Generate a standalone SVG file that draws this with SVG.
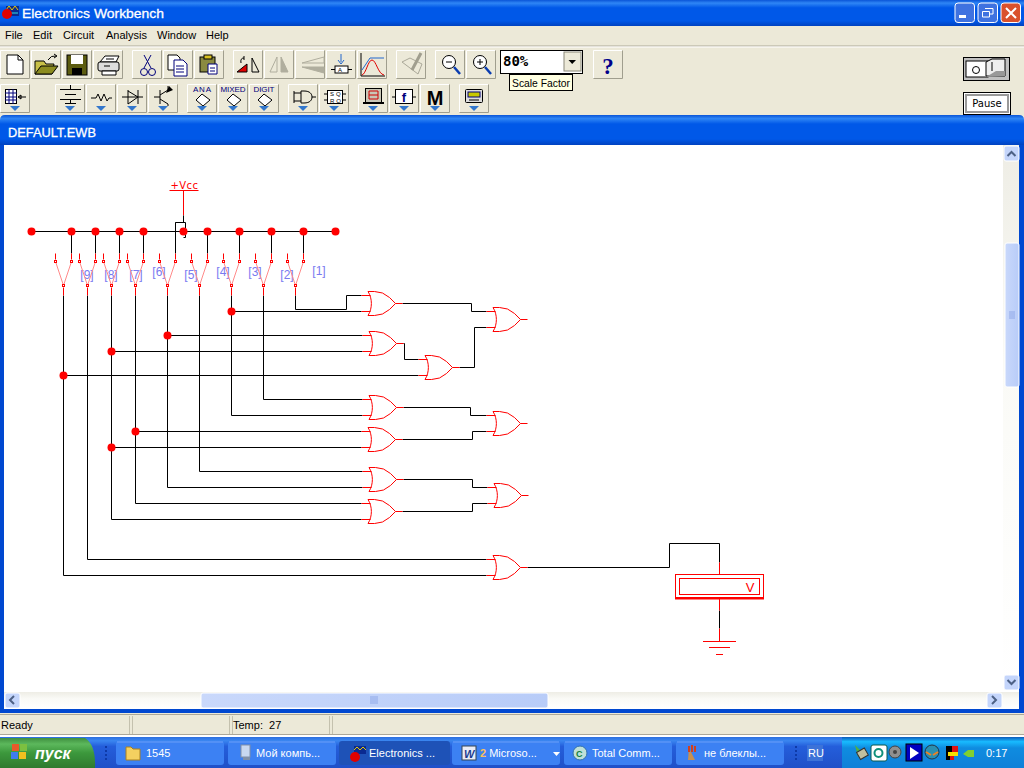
<svg xmlns="http://www.w3.org/2000/svg" xmlns:xlink="http://www.w3.org/1999/xlink" width="1024" height="768" viewBox="0 0 1024 768">
<style>
text{font-family:"Liberation Sans",Arial,sans-serif}
.w{fill:none;stroke:#000;stroke-width:1}
.r{fill:none;stroke:#f00;stroke-width:1}
.dot{fill:#f00}
.lab{font-size:12px;fill:#7a7af0}
.menu{font-size:11px;fill:#000}
.tb{font-size:11px;fill:#fff}
.ic{fill:none;stroke:#000;stroke-width:1}
.ib{fill:none;stroke:#00007b;stroke-width:1}
.st{font-size:11px;fill:#000}
.tiny{font-size:8px;fill:#00007b}
</style>
<defs>
<linearGradient id="tg" x1="0" y1="0" x2="0" y2="1"><stop offset="0" stop-color="#0a55d8"/><stop offset=".12" stop-color="#2f86f5"/><stop offset=".3" stop-color="#0058e8"/><stop offset=".8" stop-color="#0058e8"/><stop offset="1" stop-color="#0042c0"/></linearGradient>
<linearGradient id="bar" x1="0" y1="0" x2="0" y2="1"><stop offset="0" stop-color="#2c6fe0"/><stop offset=".12" stop-color="#3a86f0"/><stop offset=".3" stop-color="#245edb"/><stop offset="1" stop-color="#1f50c8"/></linearGradient>
<linearGradient id="tray" x1="0" y1="0" x2="0" y2="1"><stop offset="0" stop-color="#0c59b9"/><stop offset=".15" stop-color="#18bbff"/><stop offset=".35" stop-color="#0f8ce0"/><stop offset="1" stop-color="#0f80d8"/></linearGradient>
<linearGradient id="start" x1="0" y1="0" x2="0" y2="1"><stop offset="0" stop-color="#3f8f3f"/><stop offset=".2" stop-color="#5cb85c"/><stop offset=".5" stop-color="#3c983c"/><stop offset="1" stop-color="#2f7a2f"/></linearGradient>
<linearGradient id="thv" x1="0" y1="0" x2="1" y2="0"><stop offset="0" stop-color="#c9d8fb"/><stop offset="1" stop-color="#b8ccf8"/></linearGradient>
<linearGradient id="trk" x1="0" y1="0" x2="0" y2="1"><stop offset="0" stop-color="#eeede5"/><stop offset=".4" stop-color="#fafaf6"/><stop offset="1" stop-color="#fff"/></linearGradient>
<g id="btn"><rect width="30" height="29" fill="#ece9d8"/><path d="M.5 28V.5H29" fill="none" stroke="#fff"/><path d="M.5 28.500H29.500V.5" fill="none" stroke="#a09e8e"/></g>
<path id="drop" d="M-5 0H5L0 5Z" fill="#3377cc"/>
<g id="or"><path class="r" d="M0-8H9M0 8H9M34 0H41"/><path class="r" d="M6.500-12H13L21-10.500L28-6L34 0L28 6L21 10.500L13 12H6.500M6.500-12C11-5 11 5 6.500 12"/></g>
<g id="sw"><path d="M-8 24L-16 0M-8 24L0 0" stroke="#ff8a8a" fill="none"/><path class="r" d="M-16-8V-2M0-8V-2M-8 26V34"/><rect x="-17" y="-1" width="2" height="2" fill="#fff" stroke="#f00"/><rect x="-1" y="-1" width="2" height="2" fill="#fff" stroke="#f00"/><rect x="-9" y="23" width="2" height="2" fill="#fff" stroke="#f00"/></g>
<g id="tbtn"><rect width="108" height="24" rx="3" fill="#3c81f3"/><path d="M1 1H107" stroke="#6aa0f8"/></g>
<g id="sb"><rect width="15" height="15" rx="2" fill="#c4d5fb" stroke="#fff"/></g>
</defs>

<g id="window-chrome">
<rect width="1024" height="768" fill="#ece9d8"/>
<rect width="1024" height="26" fill="url(#tg)"/>
<g id="app-icon"><rect x="6" y="6" width="13" height="10" fill="#0a2a90"/><path d="M6 10L9 6L12 10L15 6L18 10" stroke="#e8c800" fill="none"/><path d="M10 13H18" stroke="#30e0e0"/><circle cx="7" cy="14" r="5" fill="#e00000"/></g>
<text x="22" y="18" font-size="13.500" fill="#fff" stroke="#fff" stroke-width=".3" textLength="142" lengthAdjust="spacingAndGlyphs">Electronics Workbench</text>
<g id="caption-buttons">
<rect x="955" y="3" width="19.500" height="19.500" rx="3" fill="#3f72e0" stroke="#fff"/><rect x="959" y="15" width="7" height="3" fill="#fff"/>
<rect x="978" y="3" width="19.500" height="19.500" rx="3" fill="#3f72e0" stroke="#fff"/><path d="M985 8.500H993V14H990M982.500 11.500H989.500V17H982.500Z" fill="none" stroke="#fff"/>
<rect x="1001" y="3" width="19.500" height="19.500" rx="3" fill="#d9512c" stroke="#fff"/><path d="M1006 8L1016 18M1016 8L1006 18" stroke="#fff" stroke-width="2"/>
</g>
<text class="menu" x="5" y="39">File</text><text class="menu" x="33" y="39">Edit</text><text class="menu" x="63" y="39">Circuit</text><text class="menu" x="106" y="39">Analysis</text><text class="menu" x="157" y="39">Window</text><text class="menu" x="206" y="39">Help</text>
<path d="M0 46H1024" stroke="#aca899"/><path d="M0 47H1024" stroke="#fff"/>
</g>

<g id="toolbar-1">
<use href="#btn" x="0" y="50"/><use href="#btn" x="31" y="50"/><use href="#btn" x="62" y="50"/><use href="#btn" x="93" y="50"/>
<use href="#btn" x="132" y="50"/><use href="#btn" x="163" y="50"/><use href="#btn" x="194" y="50"/>
<use href="#btn" x="233" y="50"/><use href="#btn" x="264" y="50"/><use href="#btn" x="295" y="50"/><use href="#btn" x="326" y="50"/><use href="#btn" x="357" y="50"/>
<use href="#btn" x="396" y="50"/><use href="#btn" x="435" y="50"/><use href="#btn" x="466" y="50"/>
<use href="#btn" x="593" y="50"/>
<path d="M7 55H18L23 60V74H7Z" fill="#fff" stroke="#000"/><path d="M18 55V60H23" class="ic"/>
<path d="M35 61H44L46 64H54L52 74H35Z" fill="#c8c048" stroke="#000"/><path d="M35 74L41 66H58L52 74Z" fill="#8c8c20" stroke="#000"/><path d="M48 60Q51 55 56 56M54 54L57 56L54 58" class="ic"/>
<rect x="67" y="55" width="20" height="20" fill="#5c5c10" stroke="#000"/><rect x="71" y="55" width="12" height="9" fill="#fff"/><rect x="72" y="68" width="10" height="7" fill="#000"/>
<path d="M100 62L105 56H119L116 62Z" fill="#fff" stroke="#000"/><rect x="98" y="62" width="21" height="9" rx="2" fill="#ddd" stroke="#000"/><path d="M102 71H116V75H102Z" fill="#fff" stroke="#000"/><path d="M106 59H114M104 66H110" class="ic"/>
<path d="M144 55L151 68M151 55L144 68" class="ib"/><circle cx="144" cy="72" r="3.500" class="ib"/><circle cx="152" cy="72" r="3.500" class="ib"/>
<path d="M168 55H177L180 58V70H168Z" fill="#fff" stroke="#000"/><path d="M174 60H183L187 64V76H174Z" fill="#fff" stroke="#00007b"/><path d="M176 66H184M176 69H184M176 72H184" class="ib"/>
<rect x="200" y="57" width="15" height="15" fill="#8a8a40" stroke="#000"/><rect x="204" y="55" width="8" height="4" fill="#d8c020" stroke="#000"/><path d="M208 64H217V74H208Z" fill="#fff" stroke="#00007b"/><path d="M210 68H215M210 71H215" class="ib"/>
<path d="M237 72L247 64V72Z" fill="#e00000" stroke="#000"/><path d="M244 58Q240 58 241 63M244 56V60M252 58L259 72H252Z" fill="none" stroke="#000"/>
<path d="M277 57V72H270Z" fill="#ece9d8" stroke="#b0ae9e"/><path d="M281 57V72H288Z" fill="#b0ae9e" stroke="#b0ae9e"/>
<path d="M302 63L324 57V63Z" fill="#ece9d8" stroke="#b0ae9e"/><path d="M302 67L324 73V67Z" fill="#b0ae9e" stroke="#b0ae9e"/>
<path d="M341 54V62M338 60L341 64L344 60" fill="none" stroke="#2266cc"/><rect x="335" y="66" width="13" height="7" fill="#fff" stroke="#000"/><path d="M331 69.500H335M348 69.500H352" class="ic"/><text x="338" y="72" font-size="6">A</text>
<path d="M361 53V76H385" class="ic"/><path d="M362 75C366 74 368 60 372 60S378 74 384 75" fill="none" stroke="#e00000"/><path d="M362 70L370 58H384" fill="none" stroke="#2266cc"/>
<path d="M402 62L418 74L422 64L410 58Z" fill="#ece9d8" stroke="#aaa898"/><path d="M412 70L421 53" stroke="#a09e8e" stroke-width="3"/>
<circle cx="449" cy="62" r="6.500" fill="#fff" stroke="#000"/><path d="M446 62H452" class="ic"/><path d="M454 67L460 74" stroke="#0a3cb0" stroke-width="2.500"/>
<circle cx="480" cy="62" r="6.500" fill="#fff" stroke="#000"/><path d="M477 62H483M480 59V65" class="ic"/><path d="M485 67L491 74" stroke="#0a3cb0" stroke-width="2.500"/>
<text x="608" y="74" font-size="23" font-weight="bold" text-anchor="middle" fill="#00008b" style="font-family:'Liberation Serif',serif">?</text>
<g id="zoom-combo"><rect x="500.500" y="50.500" width="82" height="23" fill="#fff" stroke="#000"/><rect x="564" y="52" width="17" height="19" fill="#ece9d8" stroke="#8a8878"/><path d="M568.500 60H576L572.200 64Z" fill="#000"/><text x="503" y="66" font-size="14" font-weight="bold" style="font-family:'DejaVu Sans Mono',monospace">80%</text></g>
<g id="tooltip"><rect x="509.500" y="74.500" width="63" height="16" fill="#ffffe1" stroke="#000"/><text x="512" y="87" font-size="11" textLength="58" lengthAdjust="spacingAndGlyphs">Scale Factor</text></g>
</g>

<g id="toolbar-2">
<use href="#btn" x="0" y="84"/>
<use href="#btn" x="55" y="84"/><use href="#btn" x="86" y="84"/><use href="#btn" x="117" y="84"/><use href="#btn" x="148" y="84"/>
<use href="#btn" x="187" y="84"/><use href="#btn" x="218" y="84"/><use href="#btn" x="249" y="84"/>
<use href="#btn" x="288" y="84"/><use href="#btn" x="319" y="84"/>
<use href="#btn" x="358" y="84"/><use href="#btn" x="389" y="84"/><use href="#btn" x="420" y="84"/>
<use href="#btn" x="459" y="84"/>
<rect x="5.500" y="89.500" width="11" height="14" fill="#fff" stroke="#000"/><path d="M5 93H17M5 97H17M5 100H17M9 89V104M13 89V104" class="ib"/><path d="M18 97H26M18 97L21 95V99Z" class="ic"/>
<path d="M60 89.500H81M65 94.500H76M60 99.500H81M65 103.500H76M70.500 85V89M70.500 100V103" class="ic"/>
<path d="M91 98H96L98 94L101 101L104 94L107 101L109 98H112" class="ic"/>
<path d="M122 97H143M128 90V104M138 90V104M128 91L138 97L128 104" class="ic"/>
<path d="M160 90V104M160 95L168 90M160 99L168 104M160 97H154M168 90V86M168 104V106" class="ic"/>
<path d="M173 90L166 93L169 86Z" fill="#000"/>
<text class="tiny" x="202" y="92" text-anchor="middle" textLength="18">ANA</text><text class="tiny" x="233" y="92" text-anchor="middle" textLength="25">MIXED</text><text class="tiny" x="264" y="92" text-anchor="middle" textLength="21">DIGIT</text>
<path d="M202 94L210 100L203 106L196 100ZM233 94L241 100L234 106L227 100ZM264 94L272 100L265 106L258 100Z" fill="#fff" stroke="#000"/>
<path d="M294 91V103M301 91V103H304C310 103 312 100 312 97S310 91 304 91ZM294 93H301M294 101H301M312 97H316" fill="#ece9d8" stroke="#000"/>
<rect x="327.500" y="90.500" width="15" height="13" fill="#fff" stroke="#000"/><text x="330" y="96" font-size="6" letter-spacing="2">SQ</text><text x="330" y="103" font-size="6" letter-spacing="2">RQ</text><path d="M324 94H327M324 100H327M343 94H346M343 100H346" class="ic"/>
<rect x="365.500" y="88.500" width="16" height="14" fill="#c8c6b6" stroke="#000"/><path d="M369 91H378V99H369ZM369 95H378" fill="none" stroke="#d00000"/><path d="M363 103H384" stroke="#000" stroke-width="2"/>
<rect x="395.500" y="89.500" width="17" height="14" fill="#fff" stroke="#000"/><path d="M392 97H395M413 97H416" class="ic"/><text x="404" y="102" font-size="13" font-weight="bold" fill="#00007b" text-anchor="middle">f</text>
<text x="435" y="105" font-size="20" font-weight="bold" text-anchor="middle">M</text>
<rect x="465.500" y="89.500" width="17" height="13" rx="1" fill="#ddd" stroke="#000"/><rect x="468" y="92" width="12" height="5" fill="#c8c800" stroke="#00007b"/><path d="M469 100H479" stroke="#000"/>
<use href="#drop" x="15" y="106"/><use href="#drop" x="70" y="106"/><use href="#drop" x="101" y="106"/><use href="#drop" x="132" y="106"/><use href="#drop" x="163" y="106"/><use href="#drop" x="202" y="106"/><use href="#drop" x="233" y="106"/><use href="#drop" x="264" y="106"/><use href="#drop" x="303" y="106"/><use href="#drop" x="334" y="106"/><use href="#drop" x="373" y="106"/><use href="#drop" x="404" y="106"/><use href="#drop" x="435" y="106"/><use href="#drop" x="474" y="106"/>
</g>

<g id="sim-controls">
<rect x="963.500" y="57.500" width="46" height="23" fill="#c0c0c0" stroke="#000"/><rect x="966" y="61" width="22" height="16" fill="#fff" stroke="#000"/><circle cx="976" cy="70" r="3.500" fill="none" stroke="#000"/><path d="M986 62L992 59H1005V76H986Z" fill="#eee" stroke="#000"/><path d="M992 62V71" stroke="#000"/><path d="M986 77L996 71H1005V76Z" fill="#999"/>
<rect x="963.500" y="92.500" width="47" height="22" fill="#fff" stroke="#000"/><rect x="966" y="95" width="42" height="17" fill="#fff" stroke="#999" stroke-width="2"/><text x="987" y="107" font-size="10" text-anchor="middle" style="font-family:'DejaVu Sans',sans-serif">Pause</text>
</g>

<g id="child-window">
<path d="M0 145V120Q0 115 5 115H1019Q1024 115 1024 120V145Z" fill="url(#tg)"/>
<text x="8" y="137" font-size="12.500" fill="#fff" stroke="#fff" stroke-width=".3" textLength="88" lengthAdjust="spacingAndGlyphs">DEFAULT.EWB</text>
<rect x="0" y="145" width="1024" height="568" fill="#0048d0"/>
<rect x="4" y="145" width="1015" height="564" fill="#fff"/>
<rect x="1003" y="145" width="16" height="546" fill="url(#trk)"/>
<rect x="4" y="692" width="1015" height="17" fill="url(#trk)"/>
<use href="#sb" x="1004" y="146"/><path d="M1007.500 156L1011.500 152L1015.500 156" fill="none" stroke="#4d6185" stroke-width="2"/>
<rect x="1005" y="243" width="14" height="144" rx="2" fill="url(#thv)" stroke="#fff"/><path d="M1009 312H1015M1009 314H1015M1009 316H1015M1009 318H1015" stroke="#8fa8e8"/>
<use href="#sb" x="1004" y="675"/><path d="M1007.500 680L1011.500 684L1015.500 680" fill="none" stroke="#4d6185" stroke-width="2"/>
<use href="#sb" x="5" y="693"/><path d="M14 696L10 700L14 704" fill="none" stroke="#4d6185" stroke-width="2"/>
<rect x="201" y="693" width="347" height="15" rx="2" fill="url(#thv)" stroke="#fff"/><path d="M371 696V704M373 696V704M375 696V704M377 696V704" stroke="#8fa8e8"/>
<use href="#sb" x="987" y="693"/><path d="M992 696L996 700L992 704" fill="none" stroke="#4d6185" stroke-width="2"/>
</g>

<g id="connectors" transform="translate(.5 .5)">
<path class="w" d="M31 231H335"/>
<path class="r" d="M183 190V215"/>
<path class="w" d="M183 215V222H175V253M175 222H185V237H183"/>
<path class="w" d="M71 231V253M95 231V253M119 231V253M143 231V253M207 231V253M239 231V253M271 231V253M303 231V253"/>
<path class="w" d="M63 295V575H486M87 295V559H486M111 295V519H361M135 295V503H361M167 295V487H362M199 295V471H362M231 295V415H362M263 295V399H362"/>
<path class="w" d="M295 295V309H346V295H361M231 311H361M167 335H362M111 351H362M63 375H418M135 431H361M111 447H361"/>
<path class="w" d="M402 303H471V311H486M403 343H404V359H418M459 367H474V327H486"/>
<path class="w" d="M403 407H470V415H486M402 439H472V431H486M403 479H472V487H487M402 511H472V503H487"/>
<path class="w" d="M527 567H669V543H719V562M719 610V628"/>
<path class="r" d="M719 562V574M719 598V610M719 628V641"/>
</g>

<g id="vcc" transform="translate(.5 .5)"><path class="r" d="M169 190H198"/><text x="170" y="188" font-size="11" fill="#f00" letter-spacing=".5" style="font-family:'DejaVu Sans',sans-serif" textLength="28" lengthAdjust="spacingAndGlyphs">+Vcc</text></g>

<g id="junctions">
<circle class="dot" cx="31.500" cy="231.500" r="4"/><circle class="dot" cx="71.500" cy="231.500" r="4"/><circle class="dot" cx="95.500" cy="231.500" r="4"/><circle class="dot" cx="119.500" cy="231.500" r="4"/><circle class="dot" cx="143.500" cy="231.500" r="4"/><circle class="dot" cx="183.500" cy="231.500" r="4"/><circle class="dot" cx="207.500" cy="231.500" r="4"/><circle class="dot" cx="239.500" cy="231.500" r="4"/><circle class="dot" cx="271.500" cy="231.500" r="4"/><circle class="dot" cx="303.500" cy="231.500" r="4"/><circle class="dot" cx="335.500" cy="231.500" r="4"/>
<circle class="dot" cx="231.500" cy="311.500" r="4"/><circle class="dot" cx="167.500" cy="335.500" r="4"/><circle class="dot" cx="111.500" cy="351.500" r="4"/><circle class="dot" cx="63.500" cy="375.500" r="4"/><circle class="dot" cx="135.500" cy="431.500" r="4"/><circle class="dot" cx="111.500" cy="447.500" r="4"/>
</g>

<g id="switches">
<g id="sw9"><use href="#sw" x="71.500" y="261.500"/><text class="lab" x="87" y="279" text-anchor="middle">[9]</text></g>
<g id="sw8"><use href="#sw" x="95.500" y="261.500"/><text class="lab" x="111" y="279" text-anchor="middle">[8]</text></g>
<g id="sw7"><use href="#sw" x="119.500" y="261.500"/><text class="lab" x="136" y="279" text-anchor="middle">[7]</text></g>
<g id="sw6"><use href="#sw" x="143.500" y="261.500"/><text class="lab" x="159" y="276" text-anchor="middle">[6]</text></g>
<g id="sw5"><use href="#sw" x="175.500" y="261.500"/><text class="lab" x="191" y="279" text-anchor="middle">[5]</text></g>
<g id="sw4"><use href="#sw" x="207.500" y="261.500"/><text class="lab" x="223" y="276" text-anchor="middle">[4]</text></g>
<g id="sw3"><use href="#sw" x="239.500" y="261.500"/><text class="lab" x="255" y="276" text-anchor="middle">[3]</text></g>
<g id="sw2"><use href="#sw" x="271.500" y="261.500"/><text class="lab" x="287" y="279" text-anchor="middle">[2]</text></g>
<g id="sw1"><use href="#sw" x="303.500" y="261.500"/><text class="lab" x="319" y="275" text-anchor="middle">[1]</text></g>
</g>

<g id="gates">
<use id="g1" href="#or" x="361.500" y="303.500"/>
<use id="g2" href="#or" x="362.500" y="343.500"/>
<use id="g3" href="#or" x="418.500" y="367.500"/>
<use id="g4" href="#or" x="486.500" y="319.500"/>
<use id="g5" href="#or" x="362.500" y="407.500"/>
<use id="g6" href="#or" x="361.500" y="439.500"/>
<use id="g7" href="#or" x="486.500" y="423.500"/>
<use id="g8" href="#or" x="362.500" y="479.500"/>
<use id="g9" href="#or" x="361.500" y="511.500"/>
<use id="g10" href="#or" x="487.500" y="495.500"/>
<use id="g11" href="#or" x="486.500" y="567.500"/>
</g>

<g id="voltmeter">
<rect x="675.500" y="574.500" width="88" height="23" fill="#fff" stroke="#f00"/>
<path d="M675 598.500H764" stroke="#f00" stroke-width="2"/>
<rect x="679.500" y="578.500" width="80" height="16" fill="none" stroke="#f00"/>
<text x="750" y="592" font-size="13" fill="#f00" text-anchor="middle">V</text>
</g>
<g id="ground" stroke="#f00"><path d="M703 641.500H736M709 647.500H730M716 654.500H723"/></g>

<g id="status-bar">
<path d="M0 714.500H1024M0 734.500H1024" stroke="#aca899"/>
<path d="M129.500 716V734M132.500 716V734M229.500 716V734M232.500 716V734M329.500 716V734M332.500 716V734" stroke="#c4c1ae"/>
<rect x="0" y="735" width="1024" height="2" fill="#fff"/>
<text class="st" x="1" y="729">Ready</text><text class="st" x="233" y="729" xml:space="preserve">Temp:  27</text>
</g>

<g id="taskbar">
<rect y="737" width="1024" height="31" fill="url(#bar)"/>
<path d="M0 738H85Q96 745 95 768H0Z" fill="url(#start)"/>
<g id="win-flag"><rect x="12" y="744" width="7" height="7" fill="#e85a2a"/><rect x="20" y="744" width="7" height="7" fill="#7cc040"/><rect x="11" y="752" width="7" height="7" fill="#3f7cf0"/><rect x="19" y="752" width="7" height="7" fill="#f0c020"/></g>
<text x="35" y="759" font-size="16" font-weight="bold" font-style="italic" fill="#fff">пуск</text>
<path d="M106 746V762" stroke="#0e3aa8" stroke-width="2" stroke-dasharray="2 2"/>
<use href="#tbtn" x="116" y="741"/><use href="#tbtn" x="228" y="741"/>
<rect x="339" y="741" width="111" height="24" rx="3" fill="#1e52b7"/>
<use href="#tbtn" x="452" y="741"/><use href="#tbtn" x="564" y="741"/><use href="#tbtn" x="676" y="741"/>
<path d="M126 747H131L133 749H140V760H126Z" fill="#f4d060" stroke="#a88020"/>
<rect x="241" y="745" width="9" height="12" fill="#c8d8f0" stroke="#8090a8"/><rect x="243" y="757" width="7" height="3" fill="#8090a8"/>
<rect x="354" y="746" width="12" height="8" fill="#0a2a90"/><path d="M354 750L357 747L360 750L363 747L366 750" stroke="#e8c800" fill="none"/><circle cx="355" cy="757" r="5" fill="#e00000"/>
<rect x="462" y="746" width="14" height="14" fill="#e8ecf8" stroke="#345"/><text x="464" y="758" font-size="11" font-weight="bold" font-style="italic" fill="#1c3c90">W</text>
<circle cx="580" cy="753" r="7" fill="#bfe0d8" stroke="#3070b0"/><text x="576" y="757" font-size="9" font-weight="bold" fill="#108040">C</text>
<path d="M689 748L695 760H688Z" fill="#c89050"/><path d="M689 746V752M692 745V752M695 746V752" stroke="#d04020" stroke-width="2"/>
<text class="tb" x="146" y="757">1545</text>
<text class="tb" x="256" y="757">Мой компь...</text>
<text class="tb" x="369" y="757">Electronics ...</text>
<text class="tb" x="480" y="757"><tspan fill="#f8c060" font-weight="bold">2</tspan> Microso...</text>
<path d="M553 752H560L556.500 756Z" fill="#fff"/>
<text class="tb" x="592" y="757">Total Comm...</text>
<text class="tb" x="704" y="757">не блеклы...</text>
<path d="M796 746V762" stroke="#0e3aa8" stroke-width="2" stroke-dasharray="2 2"/>
<rect x="807" y="745" width="16" height="16" fill="#3c72d8"/><text class="tb" x="808" y="757">RU</text>
<rect x="842" y="737" width="182" height="31" fill="url(#tray)"/>
<g id="tray-icons">
<path d="M855 745L862 752L858 757Z" fill="#50b040"/><rect x="858" y="750" width="9" height="8" fill="#c0c0a0" stroke="#333" transform="rotate(-30 862 754)"/>
<rect x="871" y="745" width="16" height="16" rx="2" fill="#fff" stroke="#0a5a50"/><circle cx="878.500" cy="753" r="4" fill="none" stroke="#10907a" stroke-width="2"/>
<circle cx="895" cy="752" r="6" fill="#909090" stroke="#444"/><circle cx="895" cy="752" r="2" fill="#444"/>
<rect x="906" y="744" width="16" height="17" fill="#0000c0" stroke="#000"/><path d="M910 747L919 753L910 759Z" fill="#fff"/>
<circle cx="932" cy="752" r="7" fill="#2a8fb0" stroke="#234"/><path d="M926 752L931 755M938 752L933 755" stroke="#f08020" stroke-width="2"/>
<rect x="946" y="746" width="6" height="14" fill="#000"/><rect x="952" y="746" width="6" height="6" fill="#e01010"/><rect x="948" y="752" width="10" height="4" fill="#f8e000"/><rect x="950" y="756" width="4" height="4" fill="#e01010"/>
<path d="M963 754L968 750H974V757H968Z" fill="#80d030"/>
<text class="tb" x="986" y="757">0:17</text>
</g>
</g>
</svg>
